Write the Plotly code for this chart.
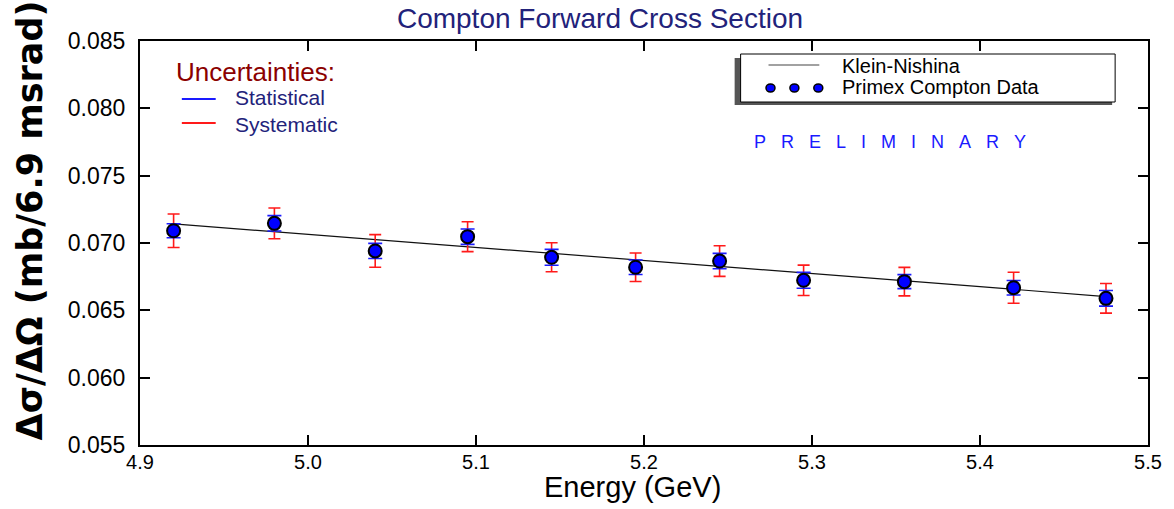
import plotly.graph_objects as go

# ---- data ----
energy = [4.92, 4.98, 5.04, 5.095, 5.145, 5.195, 5.245, 5.295, 5.355, 5.42, 5.475]
xsec = [0.07091, 0.07146, 0.06941, 0.07047, 0.06894, 0.06820, 0.06866, 0.06723, 0.06713, 0.06668, 0.06589]
stat_err = [0.00052, 0.00057, 0.00056, 0.00057, 0.00059, 0.00054, 0.00057, 0.00059, 0.00052, 0.00054, 0.00058]
sys_err = [0.00124, 0.00114, 0.00121, 0.00111, 0.00108, 0.00106, 0.00114, 0.00113, 0.00106, 0.00115, 0.00110]

kn_energy = [4.92, 5.0, 5.1, 5.2, 5.3, 5.4, 5.475]
kn_xsec = [0.07142, 0.07065, 0.06968, 0.06870, 0.06772, 0.06676, 0.06602]

x_ticks = [4.9, 5.0, 5.1, 5.2, 5.3, 5.4, 5.5]
y_ticks = [0.055, 0.060, 0.065, 0.070, 0.075, 0.080, 0.085]

W, H = 1174, 509
L, R, T, B = 140, 1152, 41, 445


def px(x):
    return (x - L) / (R - L)


def py(y):
    return (B - y) / (B - T)


ARIAL = "Liberation Sans"
NAVY = "#22227a"

fig = go.Figure()

fig.add_trace(go.Scatter(
    x=kn_energy, y=kn_xsec, mode="lines", name="Klein-Nishina",
    line=dict(color="#111111", width=1.2), showlegend=False))

fig.add_trace(go.Scatter(
    x=energy, y=xsec, mode="markers", name="Systematic",
    marker=dict(size=1, color="rgba(0,0,0,0)"),
    error_y=dict(type="data", array=sys_err, visible=True, color="#ff1a1a",
                 thickness=1.6, width=6),
    showlegend=False, hoverinfo="skip"))

fig.add_trace(go.Scatter(
    x=energy, y=xsec, mode="markers", name="Statistical",
    marker=dict(size=1, color="rgba(0,0,0,0)"),
    error_y=dict(type="data", array=stat_err, visible=True, color="#1a1aff",
                 thickness=1.6, width=7),
    showlegend=False, hoverinfo="skip"))

fig.add_trace(go.Scatter(
    x=energy, y=xsec, mode="markers", name="Primex Compton Data",
    marker=dict(size=13, color="#0000ff", line=dict(color="black", width=2)),
    showlegend=False))

shapes = []
annotations = []

# legend box with shadow
shapes.append(dict(type="rect", xref="paper", yref="paper",
                   x0=px(737), x1=px(1116), y0=py(105), y1=py(58),
                   fillcolor="#555555", line=dict(width=0), layer="above"))
shapes.append(dict(type="rect", xref="paper", yref="paper",
                   x0=px(743), x1=px(1119), y0=py(102), y1=py(54),
                   fillcolor="white", line=dict(color="black", width=1), layer="above"))
shapes.append(dict(type="line", xref="paper", yref="paper",
                   x0=px(771), x1=px(822), y0=py(65), y1=py(65),
                   line=dict(color="#444444", width=1.2), layer="above"))
for cx in (773, 797, 821):
    shapes.append(dict(type="circle", xref="paper", yref="paper",
                       xsizemode="pixel", ysizemode="pixel",
                       xanchor=px(cx), yanchor=py(88),
                       x0=-4.5, x1=4.5, y0=-4, y1=4,
                       fillcolor="#0000ff", line=dict(color="black", width=1.5),
                       layer="above"))
annotations.append(dict(xref="paper", yref="paper", x=px(843), y=py(66),
                        xanchor="left", yanchor="middle", showarrow=False,
                        text="Klein-Nishina",
                        font=dict(family=ARIAL, size=20, color="black")))
annotations.append(dict(xref="paper", yref="paper", x=px(843), y=py(87),
                        xanchor="left", yanchor="middle", showarrow=False,
                        text="Primex Compton Data",
                        font=dict(family=ARIAL, size=20, color="black")))

# uncertainties key
annotations.append(dict(xref="paper", yref="paper", x=px(174), y=py(72),
                        xanchor="left", yanchor="middle", showarrow=False,
                        text="Uncertainties:",
                        font=dict(family=ARIAL, size=26, color="#8b0000")))
annotations.append(dict(xref="paper", yref="paper", x=px(233), y=py(111),
                        xanchor="left", yanchor="middle", showarrow=False,
                        align="left",
                        text="Statistical<br>Systematic",
                        font=dict(family=ARIAL, size=21, color=NAVY)))
shapes.append(dict(type="line", xref="paper", yref="paper",
                   x0=px(182), x1=px(216), y0=py(99), y1=py(99),
                   line=dict(color="#1a1aff", width=2), layer="above"))
shapes.append(dict(type="line", xref="paper", yref="paper",
                   x0=px(182), x1=px(216), y0=py(123), y1=py(123),
                   line=dict(color="#ff1a1a", width=2), layer="above"))

# preliminary
sp = "\u00a0\u00a0\u00a0"
annotations.append(dict(xref="paper", yref="paper", x=px(893), y=py(142),
                        xanchor="center", yanchor="middle", showarrow=False,
                        text=sp.join("PRELIMINARY"),
                        font=dict(family=ARIAL, size=18, color="#1a1aff")))

# axis titles
annotations.append(dict(xref="paper", yref="paper", x=px(634), y=py(487),
                        xanchor="center", yanchor="middle", showarrow=False,
                        text="Energy (GeV)",
                        font=dict(family=ARIAL, size=29, color="black")))
annotations.append(dict(xref="paper", yref="paper", x=px(30), y=py(220),
                        xanchor="center", yanchor="middle", showarrow=False,
                        textangle=-90,
                        text="<b>Δσ/ΔΩ (mb/6.9 msrad)</b>",
                        font=dict(family="DejaVu Sans", size=35, color="black")))

fig.update_layout(
    width=W, height=H,
    margin=dict(l=L, r=W - R, t=T, b=H - B),
    paper_bgcolor="white", plot_bgcolor="white",
    title=dict(text="Compton Forward Cross Section", x=600 / W, xanchor="center",
               y=1 - 18 / H, yanchor="middle", xref="container", yref="container",
               font=dict(family=ARIAL, size=28, color=NAVY)),
    shapes=shapes, annotations=annotations, showlegend=False,
)

fig.update_xaxes(range=[4.9, 5.5], tickvals=x_ticks,
                 ticktext=[f"{v:.1f}" for v in x_ticks],
                 showgrid=False, zeroline=False,
                 showline=True, linecolor="black", linewidth=2, mirror="ticks",
                 ticks="inside", ticklen=10, tickwidth=1.5, tickcolor="black",
                 ticklabelstandoff=-2,
                 tickfont=dict(family=ARIAL, size=20, color="black"))
fig.update_yaxes(range=[0.055, 0.085], tickvals=y_ticks,
                 ticktext=[f"{v:.3f}" for v in y_ticks],
                 showgrid=False, zeroline=False,
                 showline=True, linecolor="black", linewidth=2, mirror="ticks",
                 ticks="inside", ticklen=10, tickwidth=1.5, tickcolor="black",
                 ticklabelstandoff=8,
                 tickfont=dict(family=ARIAL, size=23, color="black"))

fig.write_html("out.html")
